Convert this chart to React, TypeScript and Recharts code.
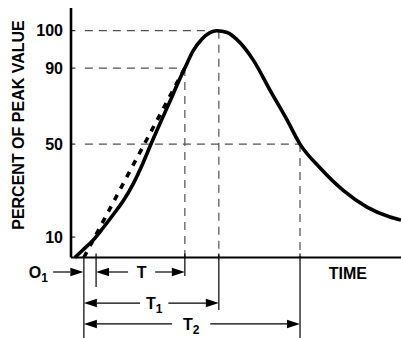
import React from 'react';
import { LineChart, Line, XAxis, YAxis, ReferenceLine, ReferenceDot } from 'recharts';

// Time has no scale in the figure, so it is in arbitrary units (0..100 across the plot).
const curveTime = [1.2, 3.6, 6.7, 9.7, 12.7, 15.8, 18.8, 21.8, 24.5, 27.3, 30.0, 32.4, 34.5, 37.0, 39.7, 42.1, 44.2, 47.3, 50.3, 55.2, 60.3, 65.5, 69.4, 75.5, 82.4, 89.7, 96.7, 100];
const curvePct = [0, 3.7, 8.5, 13.9, 19.5, 25.5, 32.8, 41.8, 51.1, 62.1, 72.6, 82.1, 90, 94.6, 97.8, 99.5, 100, 99.5, 97.6, 92.2, 78.4, 62.6, 50, 39.7, 30.2, 22.9, 18.6, 17.3];

// marked instants on the time axis
const markO1 = 3.9;
const markTStart = 7.6;
const markTEnd = 34.5;
const markT1 = 44.8;
const markT2 = 69.4;

// straight front line through O1 and the 90% point
const frontTime = [markO1, markTEnd];
const frontPct = [0, 90];

const yTickPct = [10, 50, 90, 100];
const yTickLabels = ['10', '50', '90', '100'];

// the figure's percent ruling is not evenly spaced; this maps percent to plot units
const yLevelPct = [0, 10, 50, 90, 100];
const yLevelAxis = [0, 9, 50, 83.5, 100];

const toAxis = (p: number) => {
  let i = 0;
  while (i < yLevelPct.length - 2 && p > yLevelPct[i + 1]) i++;
  const f = (p - yLevelPct[i]) / (yLevelPct[i + 1] - yLevelPct[i]);
  return yLevelAxis[i] + f * (yLevelAxis[i + 1] - yLevelAxis[i]);
};

const curveData = curveTime.map((t, i) => ({ t, v: toAxis(curvePct[i]) }));
const frontData = frontTime.map((t, i) => ({ t, v: toAxis(frontPct[i]) }));

// layout (plot units)
const X_MAX = 100;
const Y_MIN = -35.5;
const Y_MAX = 110;
const GUIDE_START = 4.2;
const ROW_T = -6.4;
const ROW_T1 = -20.1;
const ROW_T2 = -29.3;

const FONT = '"Liberation Sans", Arial, Helvetica, sans-serif';
const GUIDE = { stroke: '#505050', strokeWidth: 1.2, strokeDasharray: '8 6' };

const spans = [
  { label: 'T', sub: '', from: markTStart, to: markTEnd, row: ROW_T, mid: 21.4, gap: 4.1 },
  { label: 'T', sub: '1', from: markO1, to: markT1, row: ROW_T1, mid: 25.2, gap: 4.3 },
  { label: 'T', sub: '2', from: markO1, to: markT2, row: ROW_T2, mid: 36.4, gap: 5.8 },
];

const drops = [
  { x: markO1, top: 0, bottom: Y_MIN },
  { x: markTStart, top: 1.8, bottom: -13 },
  { x: markTEnd, top: 1.8, bottom: -8.2 },
  { x: markT1, top: 1.8, bottom: -23.1 },
  { x: markT2, top: 1.8, bottom: Y_MIN },
];

const arrowShape = (props: any) => {
  const { x1, y1, x2, y2 } = props;
  const dx = x2 - x1;
  const dy = y2 - y1;
  const len = Math.hypot(dx, dy) || 1;
  const ux = dx / len;
  const uy = dy / len;
  const bx = x2 - ux * 13;
  const by = y2 - uy * 13;
  const px = -uy * 4.2;
  const py = ux * 4.2;
  return (
    <g>
      <line x1={x1} y1={y1} x2={bx} y2={by} stroke="#000" strokeWidth={1.2} />
      <polygon points={`${x2},${y2} ${bx + px},${by + py} ${bx - px},${by - py}`} fill="#000" />
    </g>
  );
};

const textShape = (label: string, sub: string, rotate = false) => (props: any) => {
  const { cx, cy } = props;
  return (
    <text
      x={cx}
      y={cy}
      dy={5.7}
      textAnchor="middle"
      fontFamily={FONT}
      fontWeight="bold"
      fontSize={16}
      fill="#000"
      transform={rotate ? `rotate(-90 ${cx} ${cy})` : undefined}
    >
      {label}
      {sub && (
        <tspan fontSize={12} dy={4}>
          {sub}
        </tspan>
      )}
    </text>
  );
};

export default function App() {
  return (
    <div style={{ position: 'absolute', left: 0, top: 0, background: '#fff' }}>
      <LineChart width={401} height={338} margin={{ top: 8, right: 0, bottom: 0, left: 0 }}>
        <XAxis type="number" dataKey="t" domain={[0, X_MAX]} allowDataOverflow hide />
        <YAxis
          type="number"
          dataKey="v"
          domain={[Y_MIN, Y_MAX]}
          allowDataOverflow
          width={71}
          ticks={yTickPct.map(toAxis)}
          tickFormatter={(_v: number, i: number) => yTickLabels[i]}
          axisLine={false}
          tickLine={false}
          tick={{ fill: '#000', fontSize: 16, fontWeight: 'bold', fontFamily: FONT }}
        />

        {/* dashed guides */}
        <ReferenceLine segment={[{ x: GUIDE_START, y: toAxis(100) }, { x: markT1, y: toAxis(100) }]} {...GUIDE} ifOverflow="visible" />
        <ReferenceLine segment={[{ x: GUIDE_START, y: toAxis(90) }, { x: markTEnd, y: toAxis(90) }]} {...GUIDE} ifOverflow="visible" />
        <ReferenceLine segment={[{ x: GUIDE_START, y: toAxis(50) }, { x: markT2, y: toAxis(50) }]} {...GUIDE} ifOverflow="visible" />
        <ReferenceLine segment={[{ x: markTEnd, y: toAxis(90) }, { x: markTEnd, y: 0 }]} {...GUIDE} ifOverflow="visible" />
        <ReferenceLine segment={[{ x: markT1, y: toAxis(100) }, { x: markT1, y: 0 }]} {...GUIDE} ifOverflow="visible" />
        <ReferenceLine segment={[{ x: markT2, y: toAxis(50) }, { x: markT2, y: 0 }]} {...GUIDE} ifOverflow="visible" />

        <Line
          data={frontData}
          dataKey="v"
          type="linear"
          stroke="#000"
          strokeWidth={3.6}
          strokeDasharray="6 7"
          dot={false}
          activeDot={false}
          isAnimationActive={false}
        />
        <Line
          data={curveData}
          dataKey="v"
          type="monotone"
          stroke="#000"
          strokeWidth={3.6}
          dot={false}
          activeDot={false}
          isAnimationActive={false}
        />

        {/* axes */}
        <ReferenceLine segment={[{ x: 0, y: 0 }, { x: 0, y: Y_MAX }]} stroke="#000" strokeWidth={2.6} ifOverflow="visible" />
        <ReferenceLine segment={[{ x: 0, y: 0 }, { x: X_MAX, y: 0 }]} stroke="#000" strokeWidth={2} ifOverflow="visible" />
        {yTickPct.map((p) => (
          <ReferenceLine key={p} segment={[{ x: 0, y: toAxis(p) }, { x: 1.3, y: toAxis(p) }]} stroke="#000" strokeWidth={1} ifOverflow="visible" />
        ))}

        {/* time markers below the axis */}
        {drops.map((d) => (
          <ReferenceLine key={d.x} segment={[{ x: d.x, y: d.top }, { x: d.x, y: d.bottom }]} stroke="#000" strokeWidth={1.2} ifOverflow="visible" />
        ))}
        {spans.map((s) => (
          <React.Fragment key={s.label + s.sub}>
            <ReferenceLine segment={[{ x: s.mid - s.gap, y: s.row }, { x: s.from, y: s.row }]} shape={arrowShape} ifOverflow="visible" />
            <ReferenceLine segment={[{ x: s.mid + s.gap, y: s.row }, { x: s.to, y: s.row }]} shape={arrowShape} ifOverflow="visible" />
            <ReferenceDot x={s.mid} y={s.row} r={0} shape={textShape(s.label, s.sub)} ifOverflow="visible" />
          </React.Fragment>
        ))}
        <ReferenceLine segment={[{ x: -5.4, y: ROW_T }, { x: markO1 - 0.15, y: ROW_T }]} shape={arrowShape} ifOverflow="visible" />
        <ReferenceDot x={-9.9} y={ROW_T} r={0} shape={textShape('O', '1')} ifOverflow="visible" />
        <ReferenceDot x={83.9} y={-6.8} r={0} shape={textShape('TIME', '')} ifOverflow="visible" />
        <ReferenceDot x={-15.9} y={58.4} r={0} shape={textShape('PERCENT OF PEAK VALUE', '', true)} ifOverflow="visible" />
      </LineChart>
    </div>
  );
}
